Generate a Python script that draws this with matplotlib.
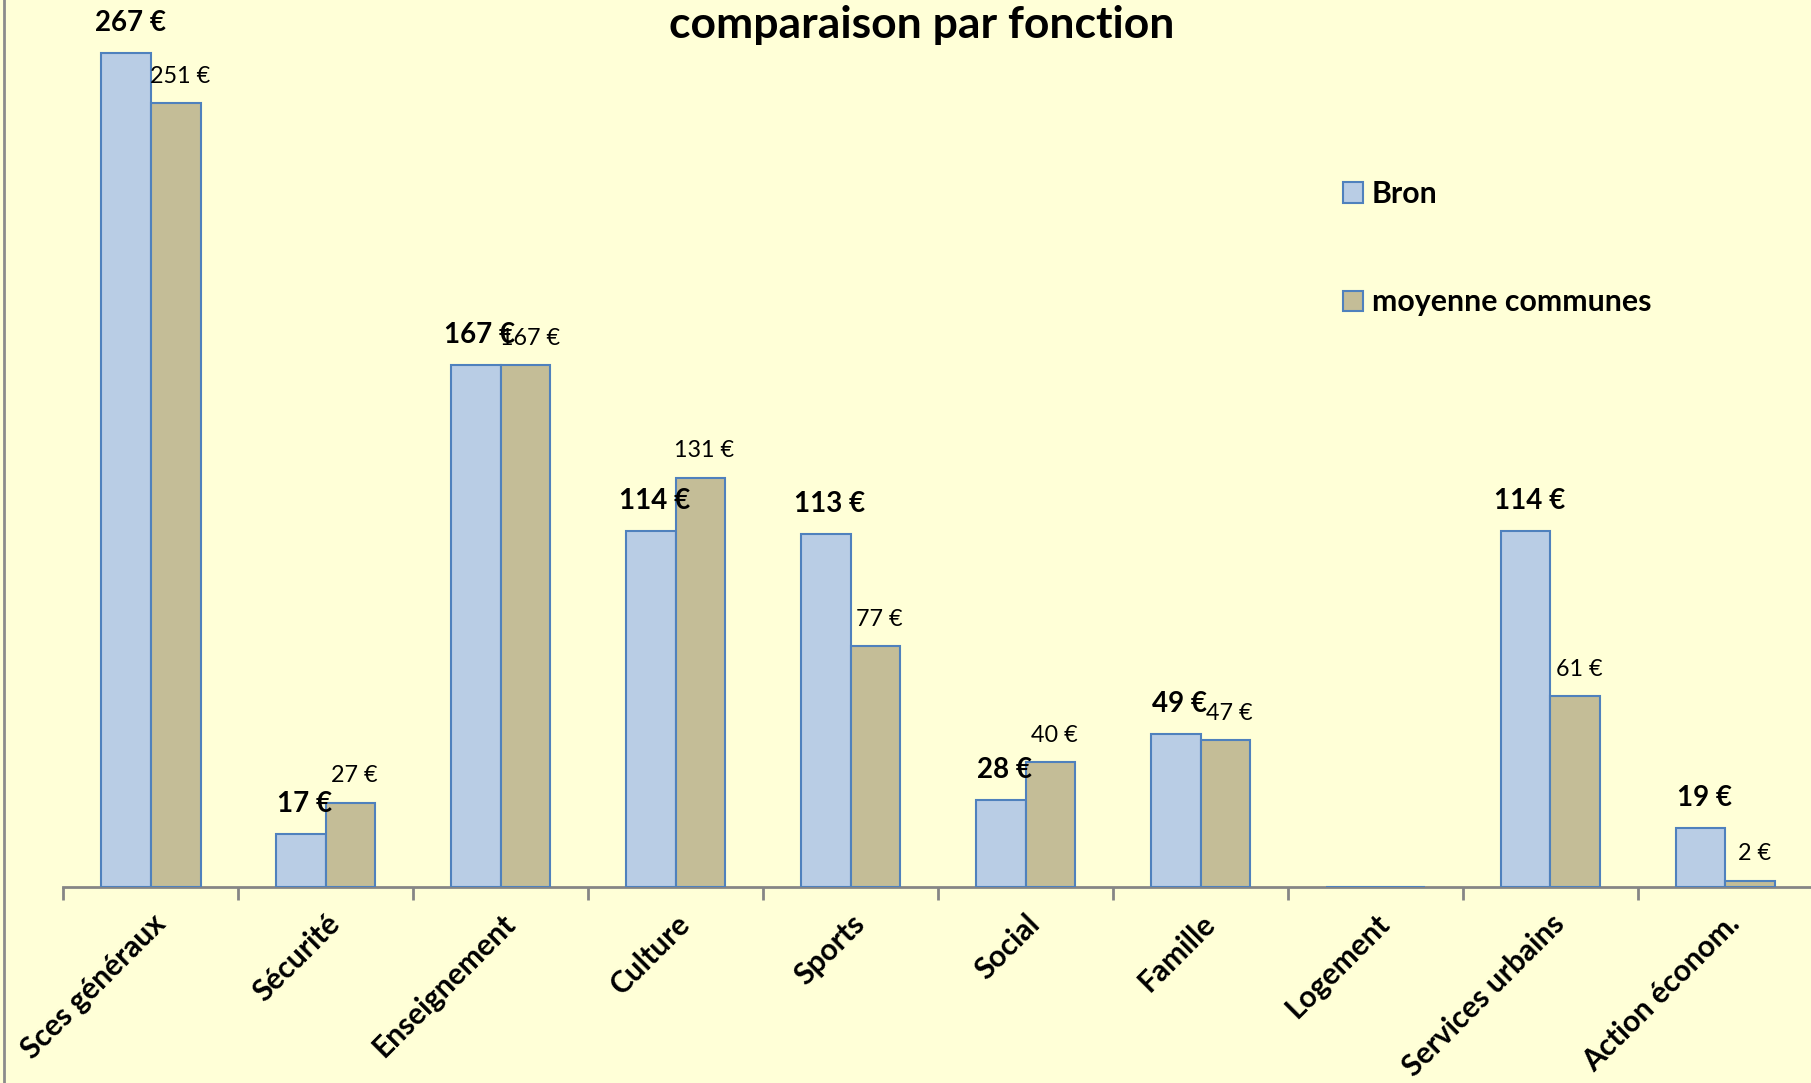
import matplotlib
matplotlib.use("Agg")
import matplotlib.pyplot as plt
import numpy as np
from matplotlib.lines import Line2D

categories = ['Sces généraux', 'Sécurité', 'Enseignement', 'Culture', 'Sports',
              'Social', 'Famille', 'Logement', 'Services urbains', 'Action écono' + 'm.']
bron = [267, 17, 167, 114, 113, 28, 49, 0, 114, 19]
moyenne = [251, 27, 167, 131, 77, 40, 47, 0, 61, 2]

plt.rcParams['font.family'] = ['Lato', 'DejaVu Sans']

bg = '#FFFFD7'
fig = plt.figure(figsize=(18.11, 10.83), dpi=100, facecolor=bg)
ax = fig.add_axes([0.035, 0.181, 0.966, 0.819], facecolor=bg)

x = np.arange(len(categories))
width = 0.284
ax.bar(x - width / 2, bron, width, color='#B9CDE5', edgecolor='#4F81BD',
       linewidth=1.5, label='Bron', zorder=3)
ax.bar(x + width / 2, moyenne, width, color='#C4BD97', edgecolor='#4F81BD',
       linewidth=1.5, label='moyenne communes', zorder=3)

# data labels (Bron in bold, average in regular)
for i in range(len(categories)):
    if bron[i] > 0:
        ax.annotate(f'{bron[i]} €', (x[i] - width / 2, bron[i]), xytext=(4, 30),
                    textcoords='offset pixels', ha='center', va='center',
                    fontsize=20, fontweight='bold')
    if moyenne[i] > 0:
        ax.annotate(f'{moyenne[i]} €', (x[i] + width / 2, moyenne[i]), xytext=(4, 27),
                    textcoords='offset pixels', ha='center', va='center',
                    fontsize=16.8)

ax.set_xlim(-0.5, 9.5)
ax.set_ylim(0, 284)
ax.set_yticks([])
for s in ['top', 'right', 'left']:
    ax.spines[s].set_visible(False)
ax.spines['bottom'].set_color('#868686')
ax.spines['bottom'].set_linewidth(2)

ax.set_xticks(x)
ax.set_xticklabels(categories, rotation=45, ha='right', va='top',
                   rotation_mode='anchor', fontsize=21.5, fontweight='bold')
ax.tick_params(axis='x', which='major', length=0, pad=16)
ax.set_xticks(np.arange(-0.5, 10, 1), minor=True)
ax.tick_params(axis='x', which='minor', length=9, width=2, color='#868686')

fig.text(922 / 1811, 1 - 25 / 1083, 'comparaison par fonction', fontsize=32,
         fontweight='bold', ha='center', va='center')

ax.legend(loc='upper left', bbox_to_anchor=(1328 / 1811, 1 - 165 / 1083),
          bbox_transform=fig.transFigure, frameon=False,
          prop={'weight': 'bold', 'size': 21.8}, labelspacing=2.65,
          handlelength=0.65, handleheight=0.65, handletextpad=0.3, borderpad=0)

fig.add_artist(Line2D([4 / 1811, 4 / 1811], [0, 1], color='#8C8C8C', linewidth=2,
                      transform=fig.transFigure))

fig.savefig('out.png', dpi=100, facecolor=bg)
